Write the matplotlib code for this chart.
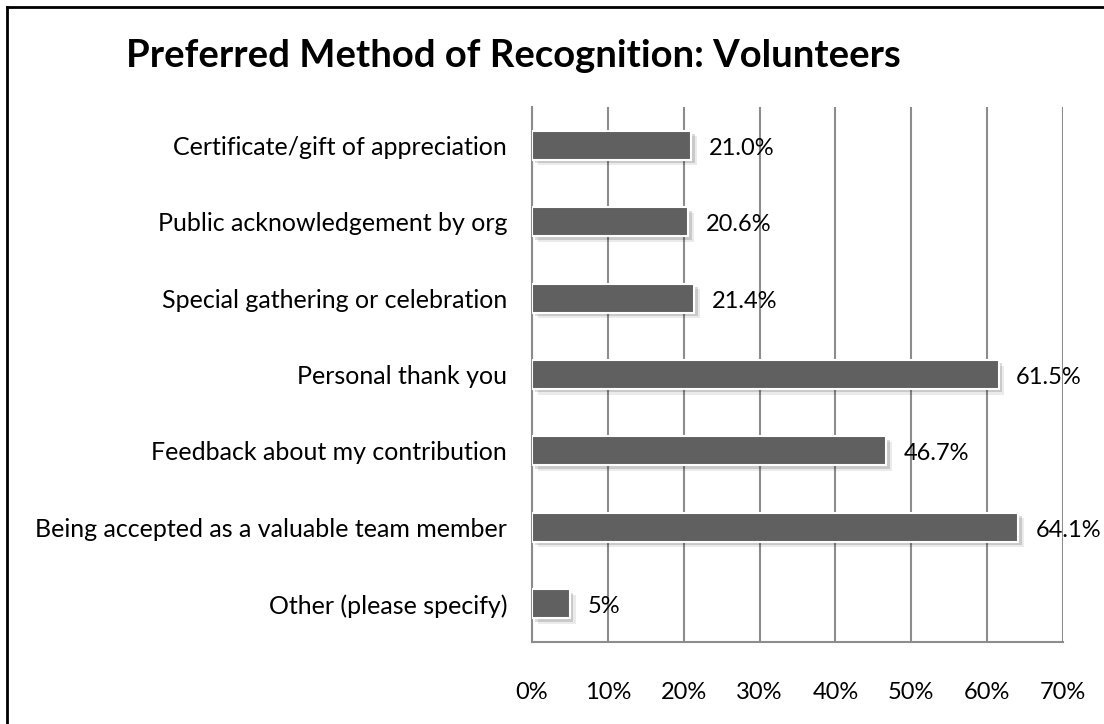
import numpy as np
import matplotlib
matplotlib.use('Agg')
import matplotlib.pyplot as plt
import matplotlib.patheffects as pe
from matplotlib.lines import Line2D

plt.rcParams['font.family'] = ['Lato', 'DejaVu Sans']

# Data (top to bottom as in the chart)
categories = [
    'Certificate/gift of appreciation',
    'Public acknowledgement by org',
    'Special gathering or celebration',
    'Personal thank you',
    'Feedback about my contribution',
    'Being accepted as a valuable team member',
    'Other (please specify)',
]
values = [21.0, 20.6, 21.4, 61.5, 46.7, 64.1, 5.0]
value_labels = ['21.0%', '20.6%', '21.4%', '61.5%', '46.7%', '64.1%', '5%']
x_ticks = [0, 10, 20, 30, 40, 50, 60, 70]
x_tick_labels = ['0%', '10%', '20%', '30%', '40%', '50%', '60%', '70%']

BAR = '#606060'
GRID = '#8c8c8c'

fig = plt.figure(figsize=(11.04, 7.24), dpi=100, facecolor='white')
ax = fig.add_axes([0.4819, 0.1133, 0.4810, 0.7389])

y = np.arange(len(categories))
bars = ax.barh(y, values, height=0.38, color=BAR, edgecolor='white',
               linewidth=1.5, zorder=3)
# soft drop shadow, roughly like the spreadsheet style
for b in bars:
    b.set_path_effects([
        pe.SimplePatchShadow(offset=(4, -4), shadow_rgbFace='#000000', alpha=0.08),
        pe.SimplePatchShadow(offset=(2.5, -2.5), shadow_rgbFace='#000000', alpha=0.14),
        pe.Normal()])

for yi, v, lab in zip(y, values, value_labels):
    ax.text(v + 2.3, yi + 0.04, lab, va='center', ha='left', fontsize=17,
            color='black', zorder=4)

ax.set_ylim(len(categories) - 0.5, -0.5)
ax.set_xlim(0, 70)
ax.set_yticks(y)
ax.set_yticklabels(categories, fontsize=18)
ax.set_xticks(x_ticks)
ax.set_xticklabels(x_tick_labels, fontsize=17)
ax.tick_params(axis='x', length=0, pad=29)
ax.tick_params(axis='y', length=0, pad=18)

ax.grid(axis='x', color=GRID, linewidth=1.5, zorder=0)
ax.set_axisbelow(True)
for side in ['top', 'right']:
    ax.spines[side].set_visible(False)
for side in ['left', 'bottom']:
    ax.spines[side].set_color(GRID)
    ax.spines[side].set_linewidth(1.5)

fig.text(0.465, 0.922, 'Preferred Method of Recognition: Volunteers',
         ha='center', va='center', fontsize=27.5, fontweight='bold')

# outer frame (top and left edges visible)
fig.add_artist(Line2D([0.006, 0.006], [0.0, 0.991], transform=fig.transFigure,
                      color='black', linewidth=2))
fig.add_artist(Line2D([0.006, 1.0], [0.991, 0.991], transform=fig.transFigure,
                      color='black', linewidth=2))

fig.savefig('out.png', dpi=100, facecolor='white')
